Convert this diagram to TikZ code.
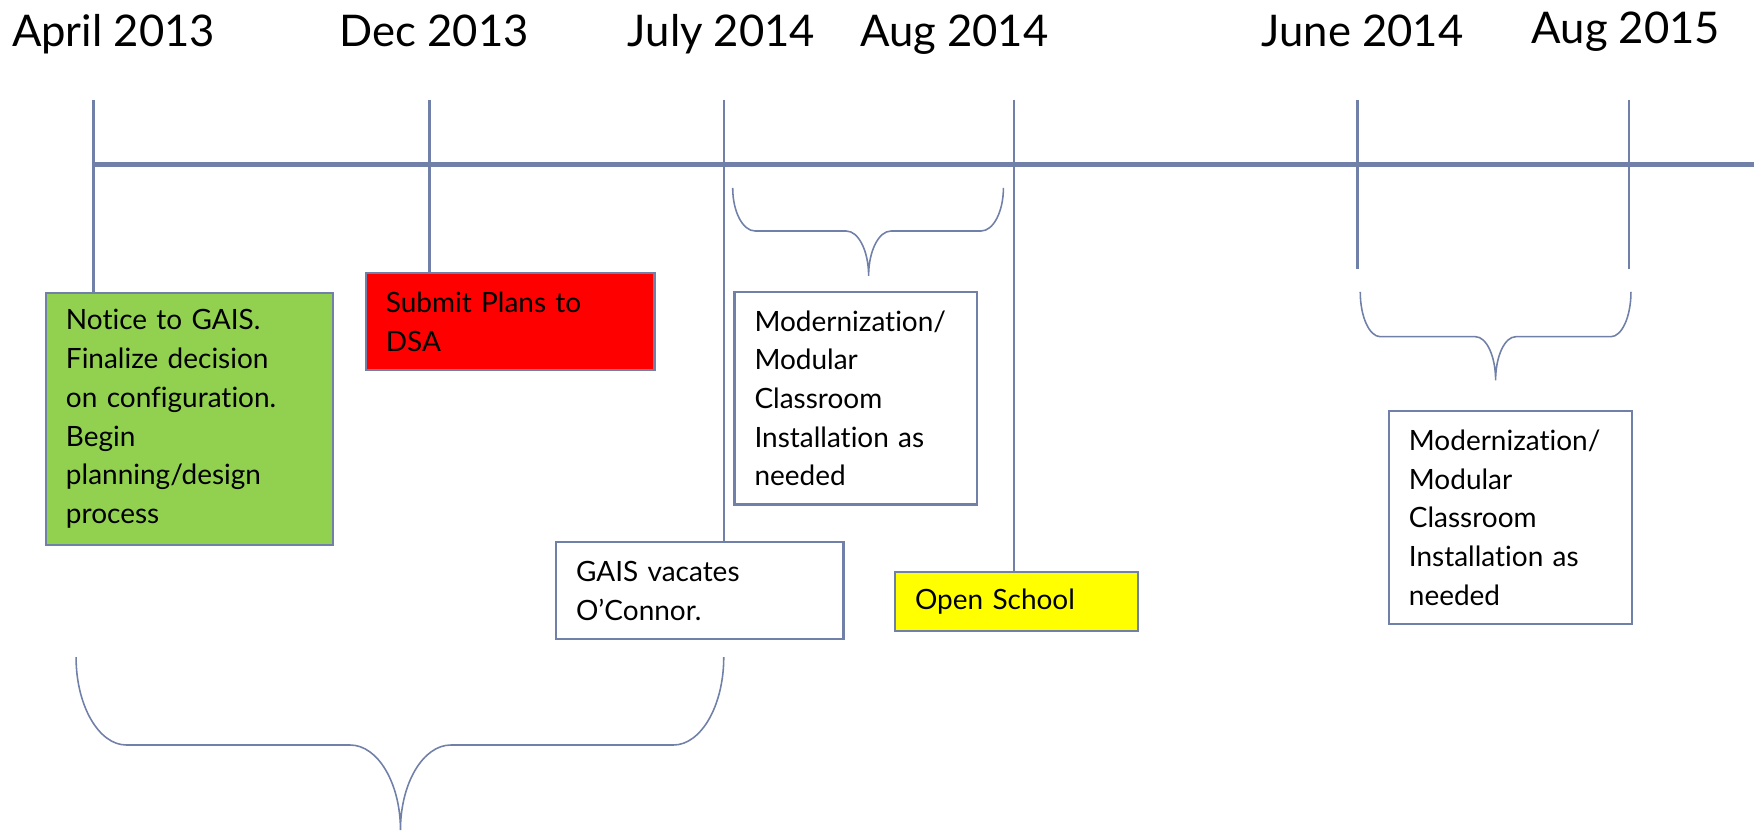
\documentclass[tikz,border=0pt]{standalone}
\usepackage{fontspec}
\setmainfont{Lato}[Ligatures=NoCommon]

\definecolor{tlblue}{RGB}{113,128,168}
\definecolor{tlgreen}{RGB}{146,208,80}
\definecolor{tlred}{RGB}{255,0,0}
\definecolor{tlyellow}{RGB}{255,255,0}

% brace opening upwards: left, right, tip x, top, middle, bottom, corner radius
\newcommand\timebrace[7]{%
	\draw[bracel] (#1,#4) .. controls (#1,{#4+0.55*(#5-#4)}) and ({#1+0.45*#7},#5) .. ({#1+#7},#5)
		-- ({#3-#7},#5) .. controls ({#3-0.45*#7},#5) and (#3,{#5+0.45*(#6-#5)}) .. (#3,#6)
		.. controls (#3,{#5+0.45*(#6-#5)}) and ({#3+0.45*#7},#5) .. ({#3+#7},#5)
		-- ({#2-#7},#5) .. controls ({#2-0.45*#7},#5) and (#2,{#4+0.55*(#5-#4)}) .. (#2,#4);}

\begin{document}
\begin{tikzpicture}[x=1pt, y=-1pt,
		axis/.style={draw=tlblue, line width=4.5pt},
		tline/.style={draw=tlblue, line width=2pt},
		bracel/.style={draw=tlblue, line width=1.4pt},
		date/.style={anchor=base, inner sep=0pt, font=\fontsize{39}{47}\selectfont},
		tbox/.style={draw=tlblue, line width=2pt, anchor=north west, align=left,
			inner xsep=18pt, inner ysep=0pt, font=\fontsize{25}{34.6}\selectfont}
	]
		\path[use as bounding box, fill=white] (0,0) rectangle (1568,742);

		% dates
		\node[date] (d-apr) at (101.5,42) {April 2013};
		\node[date] (d-dec) at (388,42) {Dec 2013};
		\node[date] (d-jul) at (645,42) {July 2014};
		\node[date] (d-aug) at (853,42) {Aug 2014};
		\node[date] (d-jun) at (1218,42) {June 2014};
		\node[date] (d-aug15) at (1453.5,39) {Aug 2015};

		% tick tops and free ends
		\coordinate (t-apr) at (83.5,89);
		\coordinate (t-dec) at (384,89);
		\coordinate (t-jul) at (647.5,89);
		\coordinate (t-aug) at (906.5,89);
		\coordinate (t-jun) at (1213.5,89);
		\coordinate (t-aug15) at (1456.5,89);
		\coordinate (e-jun) at (1213.5,240.5);
		\coordinate (e-aug15) at (1456.5,240.5);
		\coordinate (axis-end) at (1568,147);

		% events
		\node[tbox, fill=tlgreen, text width=221pt, minimum height=225pt] (notice) at (40,261)
			{Notice to GAIS.\\Finalize decision\\on configuration.\\Begin\\planning/design\\process};
		\node[tbox, fill=tlred, text width=222pt, minimum height=87pt] (submit) at (326,243)
			{Submit Plans to\\DSA};
		\node[tbox, fill=white, text width=181pt, minimum height=190pt] (modern) at (655.5,260)
			{Modernization/\\Modular\\Classroom\\Installation as\\needed};
		\node[tbox, fill=white, text width=221pt, minimum height=87pt] (gais) at (496,483.5)
			{GAIS vacates\\O’Connor.};
		\node[tbox, fill=tlyellow, text width=181pt, minimum height=52.5pt] (open) at (799,510.5)
			{Open School};
		\node[tbox, fill=white, text width=181.5pt, minimum height=190.5pt] (modern2) at (1240.5,366.5)
			{Modernization/\\Modular\\Classroom\\Installation as\\needed};

		% timeline
		\draw[axis] (t-apr |- axis-end) -- (axis-end);
		\draw[tline] (t-apr) -- (t-apr |- notice.north);
		\draw[tline] (t-dec) -- (t-dec |- submit.north);
		\draw[tline] (t-jul) -- (t-jul |- gais.north);
		\draw[tline] (t-aug) -- (t-aug |- open.north);
		\draw[tline] (t-jun) -- (e-jun);
		\draw[tline] (t-aug15) -- (e-aug15);

		% spans
		\timebrace{655}{897}{776.5}{168}{206.5}{246.5}{20}
		\timebrace{1216}{1458}{1337}{261}{301}{340}{18}
		\timebrace{68}{647}{358}{587.5}{666}{742}{45}
	\end{tikzpicture}
\end{document}
